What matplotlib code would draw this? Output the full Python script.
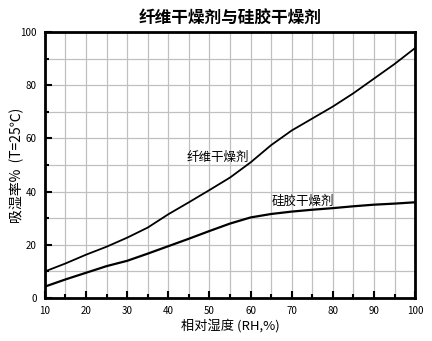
import matplotlib
matplotlib.use('Agg')
import matplotlib.pyplot as plt
from matplotlib.ticker import MultipleLocator

plt.rcParams['font.family'] = ['Noto Sans CJK SC', 'DejaVu Sans']

# relative humidity (%) and moisture uptake (%) at 25 C
rh = [10, 15, 20, 25, 30, 35, 40, 45, 50, 55, 60, 65, 70, 75, 80, 85, 90, 95, 100]
fiber = [10, 13, 16.3, 19.3, 22.7, 26.5, 31.5, 36, 40.6, 45.3, 51, 57.5, 63,
         67.5, 72, 77, 82.5, 88, 94]
silica = [4.3, 7, 9.5, 12, 14, 16.7, 19.5, 22.3, 25.2, 28, 30.3, 31.6, 32.5,
          33.2, 33.8, 34.5, 35.1, 35.5, 36]

fig = plt.figure(figsize=(4.32, 3.41), dpi=100)
ax = fig.add_axes([0.104, 0.126, 0.857, 0.78])

ax.plot(rh, fiber, color='black', lw=1.3)
ax.plot(rh, silica, color='black', lw=1.6)

ax.set_xlim(10, 100)
ax.set_ylim(0, 100)
ax.xaxis.set_major_locator(MultipleLocator(10))
ax.xaxis.set_minor_locator(MultipleLocator(5))
ax.yaxis.set_major_locator(MultipleLocator(20))
ax.yaxis.set_minor_locator(MultipleLocator(10))
ax.grid(which='both', color='#c0c0c0', lw=0.9)
ax.set_axisbelow(True)
ax.tick_params(which='both', direction='in', labelsize=7, width=1.5)
ax.tick_params(which='major', length=5)
ax.tick_params(which='minor', length=3)
ax.tick_params(axis='x', pad=6)
ax.tick_params(axis='y', pad=6)
for s in ax.spines.values():
    s.set_linewidth(2)

ax.text(52, 53, '纤维干燥剂', fontsize=9, ha='center', va='center')
ax.text(72.8, 36.5, '硅胶干燥剂', fontsize=9, ha='center', va='center')

ax.set_title('纤维干燥剂与硅胶干燥剂', fontsize=12, fontweight='bold', pad=6)
ax.set_xlabel('相对湿度 (RH,%)', fontsize=9.5, labelpad=2)
ax.set_ylabel('吸湿率%  (T=25℃)', fontsize=10, labelpad=-3)

fig.savefig('out.png', dpi=100)
